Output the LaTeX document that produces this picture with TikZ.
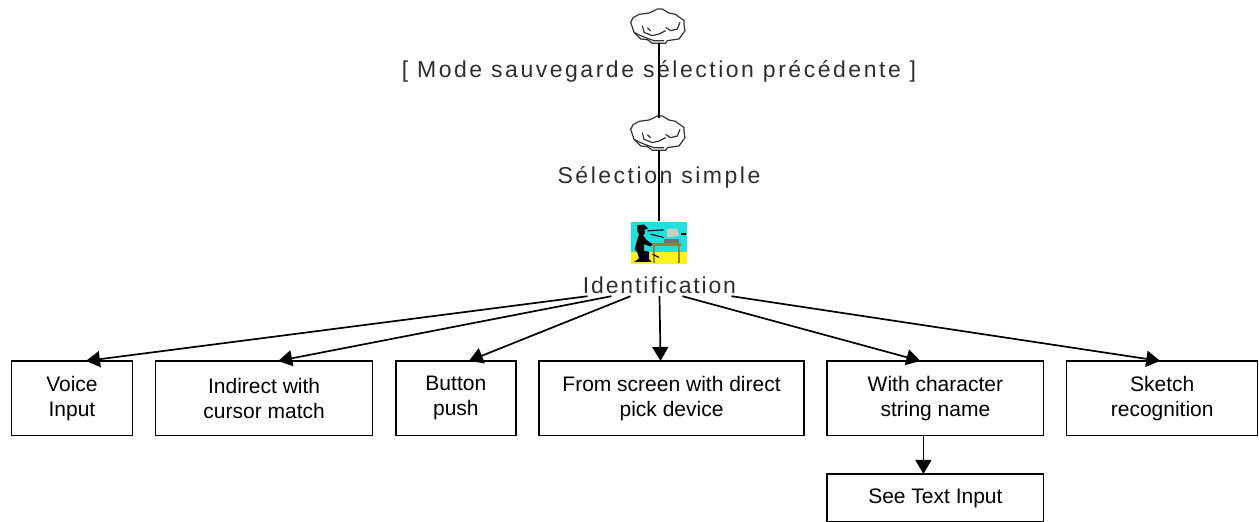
\documentclass[tikz,border=0pt]{standalone}
\usepackage{fontspec}
\setmainfont{Liberation Sans}
\newfontfamily\bitmapfont[LetterSpace=11]{Liberation Sans}
\newfontfamily\bitmapnarrow[LetterSpace=8]{Liberation Sans}
\usetikzlibrary{matrix,arrows.meta,positioning}
\definecolor{iconcyan}{HTML}{22E0E0}
\definecolor{iconyellow}{HTML}{FFF21E}
\definecolor{icontable}{HTML}{8A8A30}
\definecolor{icongrey}{HTML}{C8D0C0}
\tikzset{
  conn/.style={line width=1.7pt},
  arr/.style={conn,-{Triangle[length=14pt,width=16pt]}},
  toplabel/.style={inner sep=0pt,minimum height=22pt,text=black!82,font=\bitmapfont\fontsize{23}{24}\selectfont},
  iconspot/.style={inner sep=0pt,outer sep=0pt,minimum width=56pt,minimum height=37pt},
  pics/cloudicon/.style={code={
    \begin{scope}[x=0.333pt,y=-0.333pt,line width=1.2pt,black!80,line join=round]
      \draw (-15,-49) -- (-5,-54) -- (10,-54) -- (30,-42) -- (50,-38) -- (60,-30) -- (75,-20) -- (75,-8) -- (78,11) -- (60,36)
        -- (25,41) -- (20,49) -- (-20,49) -- (-35,38) -- (-55,36) -- (-75,16) -- (-85,-14)
        -- (-78,-28) -- (-60,-38) -- (-30,-42) -- cycle;
      \draw (-50,-4) -- (-45,16) -- (-20,26) -- (0,21) -- (20,11);
      \draw (-35,2) -- (-25,12);
      \draw (20,1) -- (35,11) -- (55,6) -- (63,-14);
      \draw (-75,16) -- (-55,26) -- (-30,36) -- (-15,41) -- (15,41);
    \end{scope}
  }},
  pics/deskicon/.style={code={
    \begin{scope}[x=0.333pt,y=-0.333pt]
      \fill[iconcyan] (-85,-63) rectangle (85,30);
      \fill[iconyellow] (-85,30) rectangle (85,65);
      \fill[icontable] (-20,2) rectangle (65,10);
      \fill[icontable] (-17,10) rectangle (-11,62);
      \fill[icontable] (58,10) rectangle (64,62);
      \fill[icongrey] (23,-42) -- (55,-42) -- (60,-20) -- (25,-15) -- cycle;
      \fill[black!55] (15,-12) rectangle (60,0);
      \fill[black] (-65,-52) -- (-45,-54) -- (-33,-42) -- (-43,-38) -- (-43,-25) -- (-48,-22)
        -- (-38,-8) -- (-20,5) -- (-25,12) -- (-45,5) -- (-45,25) -- (-30,28) -- (-30,50)
        -- (-22,58) -- (-75,58) -- (-60,48) -- (-65,30) -- (-73,20) -- (-65,-10) -- (-60,-25) -- (-65,-35) -- cycle;
      \draw[line width=1.1pt] (-35,-35) -- (15,-38);
      \draw[line width=1.1pt] (-25,-25) -- (15,-15);
      \draw[line width=1.1pt] (-20,35) -- (0,45);
      \fill[black] (65,-30) rectangle (80,-24);
    \end{scope}
  }}
}
\begin{document}
\begin{tikzpicture}[x=1pt,y=-1pt]
  \useasboundingbox (0,0) rectangle (1259,522);

  \node[iconspot] (savecloud) at (659,27) {};
  \pic at (savecloud) {cloudicon};
  \node[toplabel] (savelabel) at (659,71) {[ Mode sauvegarde sélection précédente ]};
  \node[iconspot] (simplecloud) at (659,134) {};
  \pic at (simplecloud) {cloudicon};
  \node[toplabel] (simplelabel) at (659,177) {Sélection simple};
  \node[iconspot,minimum height=43pt] (desk) at (659,242.5) {};
  \pic at (desk) {deskicon};
  \node[toplabel,font=\bitmapnarrow\fontsize{23}{24}\selectfont] (identlabel) at (659.5,285) {Identification};

  \matrix[anchor=north west,inner sep=0pt,column sep=21.7pt,row sep=36.8pt,
 nodes={draw,line width=1.5pt,align=center,inner sep=0pt,outer sep=0pt,font=\fontsize{21}{25}\selectfont},
 row 1/.style={nodes={minimum height=74.7pt}},
 row 2/.style={nodes={minimum height=48pt}},
 column 1/.style={nodes={minimum width=121pt}},
 column 2/.style={nodes={minimum width=217pt}},
 column 3/.style={nodes={minimum width=120pt}},
 column 4/.style={nodes={minimum width=265pt}},
 column 5/.style={nodes={minimum width=216.3pt}},
 column 6/.style={nodes={minimum width=191pt}}] (boxes) at (10.5,360) {
   \node (voice) {Voice\\Input}; & \node (indirect) {Indirect with\\cursor match}; & \node (button) {Button\\push}; &
   \node (fromscreen) {From screen with direct\\pick device}; & \node (charstring) {With character\\string name}; &
   \node (sketch) {Sketch\\recognition}; \\
   & & & & \node (seetext) {See Text Input}; & \\
 };

  \draw[conn] ([yshift=3pt]savecloud.south) -- ([yshift=-2pt]simplecloud.north);
  \draw[conn] ([yshift=3pt]simplecloud.south) -- (desk.north);

  % fan out of the label
  \draw[arr] ([xshift=-72pt]identlabel.south) -- ([xshift=14pt]voice.north);
  \draw[arr] ([xshift=-48pt]identlabel.south) -- ([xshift=14pt]indirect.north);
  \draw[arr] ([xshift=-29pt]identlabel.south) -- ([xshift=13pt]button.north);
  \draw[arr] ([xshift=0pt]identlabel.south) -- ([xshift=-11pt]fromscreen.north);
  \draw[arr] ([xshift=23pt]identlabel.south) -- ([xshift=-15pt]charstring.north);
  \draw[arr] ([xshift=72pt]identlabel.south) -- ([xshift=-2pt]sketch.north);
  \draw[arr] ([xshift=-12pt]charstring.south) -- ([xshift=-12pt]seetext.north);
\end{tikzpicture}
\end{document}
